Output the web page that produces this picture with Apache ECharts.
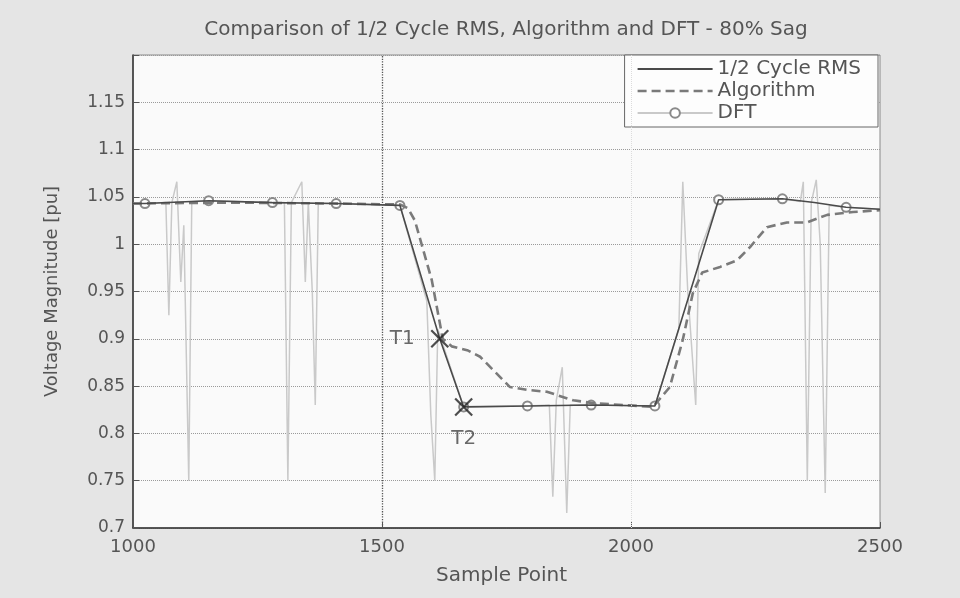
<!DOCTYPE html>
<html>
<head>
<meta charset="utf-8">
<title>Comparison of 1/2 Cycle RMS, Algorithm and DFT - 80% Sag</title>
<script src="https://cdn.jsdelivr.net/npm/echarts@6/dist/echarts.min.js"></script>
<style>
  html, body { margin: 0; padding: 0; background: #e5e5e5; }
  #chart { width: 960px; height: 598px; }
</style>
</head>
<body>
<div id="chart"></div>
<script>
// Sample point / voltage magnitude [pu] pairs for each estimator
const rmsPoints = [
  [1000, 1.043], [1024, 1.043], [1152, 1.046], [1280, 1.044], [1408, 1.043],
  [1536, 1.041], [1616, 0.900], [1664, 0.828], [1792, 0.829], [1920, 0.830],
  [2048, 0.829], [2176, 1.047], [2304, 1.048], [2368, 1.044], [2432, 1.039],
  [2500, 1.037]
];

const algorithmPoints = [
  [1000, 1.043], [1200, 1.044], [1400, 1.043], [1536, 1.042], [1552, 1.038],
  [1566, 1.025], [1600, 0.962], [1622, 0.900], [1640, 0.892], [1671, 0.888],
  [1697, 0.881], [1757, 0.849], [1791, 0.846], [1831, 0.844], [1884, 0.835],
  [1924, 0.832], [2044, 0.828], [2078, 0.849], [2104, 0.899], [2124, 0.948],
  [2143, 0.970], [2179, 0.976], [2213, 0.983], [2239, 0.997], [2273, 1.018],
  [2313, 1.023], [2353, 1.023], [2394, 1.031], [2446, 1.034], [2500, 1.036]
];

const dftPoints = [
  [1000, 1.043], [1024, 1.043], [1066, 1.044], [1072, 0.925], [1078, 1.044],
  [1088, 1.066], [1096, 0.960], [1102, 1.020], [1112, 0.750], [1118, 1.045],
  [1152, 1.046], [1280, 1.044], [1304, 1.044], [1311, 0.750], [1318, 1.044],
  [1339, 1.066], [1346, 0.960], [1352, 1.044], [1360, 0.950], [1366, 0.830],
  [1372, 1.043], [1408, 1.043], [1536, 1.041], [1590, 0.940], [1598, 0.820],
  [1606, 0.750], [1612, 0.910], [1664, 0.828], [1792, 0.829], [1836, 0.830],
  [1843, 0.733], [1850, 0.835], [1862, 0.870], [1871, 0.716], [1878, 0.830],
  [1920, 0.830], [2048, 0.829], [2096, 0.910], [2104, 1.066], [2114, 0.950],
  [2130, 0.830], [2136, 0.990], [2176, 1.047], [2304, 1.048], [2340, 1.045],
  [2346, 1.066], [2354, 0.750], [2362, 1.044], [2372, 1.068], [2380, 1.000],
  [2390, 0.737], [2398, 1.041], [2432, 1.039], [2500, 1.037]
];

// DFT estimates are marked once per cycle (128 samples)
const dftMarkerSamples = [1024, 1152, 1280, 1408, 1536, 1664, 1792, 1920, 2048, 2176, 2304, 2432];

// Sag start / end detection instants
const eventNames = ['T1', 'T2'];
const eventPoints = [[1616, 0.900], [1664, 0.828]];

const seriesNames = ['1/2 Cycle RMS', 'Algorithm', 'DFT'];
const yTickLabels = ['0.7', '0.75', '0.8', '0.85', '0.9', '0.95', '1', '1.05', '1.1', '1.15'];
const xTickLabels = ['1000', '1500', '2000', '2500'];

const FONT = '"DejaVu Sans", "Liberation Sans", sans-serif';
const TEXT = '#555';

// Legend keys: a plain stroke for the RMS trace, a dashed stroke for the algorithm trace
const solidKey = 'path://M0,0L75,0L75,1.8L0,1.8Z';
const dashedKey = 'path://M0,0h9v2.4h-9zM14,0h9v2.4h-9zM28,0h9v2.4h-9zM42,0h9v2.4h-9zM56,0h9v2.4h-9zM70,0h5v2.4h-5z';
const crossPath = 'path://M0,0L10,10M10,0L0,10';

const chart = echarts.init(document.getElementById('chart'), null, { renderer: 'canvas' });

chart.setOption({
  backgroundColor: '#e5e5e5',
  animation: false,
  title: {
    text: 'Comparison of 1/2 Cycle RMS, Algorithm and DFT - 80% Sag',
    left: 506,
    top: 20,
    padding: 0,
    textAlign: 'center',
    textStyle: { fontFamily: FONT, fontSize: 20, fontWeight: 'normal', color: TEXT }
  },
  legend: {
    data: [
      { name: seriesNames[0], icon: solidKey },
      { name: seriesNames[1], icon: dashedKey },
      { name: seriesNames[2], icon: 'inherit' }
    ],
    orient: 'vertical',
    right: 82,
    top: 55,
    align: 'left',
    itemWidth: 75,
    itemHeight: 12,
    itemGap: 2,
    padding: [4, 17, 4, 12],
    backgroundColor: '#fdfdfd',
    borderColor: '#666',
    borderWidth: 1,
    textStyle: { fontFamily: FONT, fontSize: 20, color: TEXT }
  },
  grid: {
    left: 133, right: 80, top: 55, bottom: 70,
    show: true,
    backgroundColor: '#fafafa',
    borderColor: '#8a8a8a',
    borderWidth: 1
  },
  xAxis: {
    type: 'value',
    min: 1000, max: 2500, interval: 500,
    name: 'Sample Point',
    nameLocation: 'middle',
    nameGap: 38,
    nameTextStyle: { fontFamily: FONT, fontSize: 20, color: TEXT, padding: [0, 10, 0, 0] },
    axisLine: { show: true, lineStyle: { color: '#333', width: 1.5 } },
    axisTick: { show: true, inside: true, length: 6, lineStyle: { color: '#555' } },
    axisLabel: {
      fontFamily: FONT, fontSize: 18, color: TEXT, margin: 10,
      formatter: v => xTickLabels[Math.round((v - 1000) / 500)]
    },
    splitLine: { show: false }
  },
  yAxis: {
    type: 'value',
    min: 0.7, max: 1.2, interval: 0.05,
    name: 'Voltage Magnitude [pu]',
    nameLocation: 'middle',
    nameGap: 72,
    nameRotate: 90,
    nameTextStyle: { fontFamily: FONT, fontSize: 18, color: TEXT },
    axisLine: { show: true, lineStyle: { color: '#333', width: 1.5 } },
    axisTick: { show: true, inside: true, length: 6, lineStyle: { color: '#555' } },
    axisLabel: {
      fontFamily: FONT, fontSize: 17, color: TEXT, margin: 8,
      formatter: v => {
        const i = Math.round((v - 0.7) / 0.05);
        return i < yTickLabels.length ? yTickLabels[i] : '';
      }
    },
    splitLine: { show: true, lineStyle: { color: '#9a9a9a', type: 'dotted', width: 1 } }
  },
  series: [
    {
      name: 'DFT',
      type: 'line',
      z: 1,
      symbol: 'emptyCircle',
      symbolSize: 9,
      showSymbol: true,
      itemStyle: { color: '#8a8a8a', borderWidth: 1.2 },
      lineStyle: { color: '#c9c9c9', width: 1.5 },
      data: dftPoints.map(p => ({
        value: p,
        symbol: dftMarkerSamples.includes(p[0]) ? 'emptyCircle' : 'none'
      })),
      markLine: {
        silent: true,
        symbol: 'none',
        label: { show: false },
        data: [
          { xAxis: 1500, lineStyle: { color: '#555', type: 'dotted', width: 1.3 } },
          { xAxis: 2000, lineStyle: { color: '#dcdcdc', type: 'dotted', width: 1 } }
        ]
      }
    },
    {
      name: 'Algorithm',
      type: 'line',
      z: 2,
      symbol: 'none',
      itemStyle: { color: '#7a7a7a' },
      lineStyle: { color: '#7a7a7a', width: 2.6, type: [9, 5] },
      data: algorithmPoints
    },
    {
      name: '1/2 Cycle RMS',
      type: 'line',
      z: 3,
      symbol: 'none',
      itemStyle: { color: '#4a4a4a' },
      lineStyle: { color: '#4a4a4a', width: 1.6 },
      data: rmsPoints
    },
    {
      name: 'Events',
      type: 'scatter',
      z: 5,
      symbol: crossPath,
      symbolSize: 17,
      itemStyle: { color: 'none', borderColor: '#222', borderWidth: 2.2 },
      label: {
        show: true,
        fontFamily: FONT, fontSize: 20, color: '#444',
        formatter: p => eventNames[p.dataIndex]
      },
      data: eventPoints.map((p, i) => ({
        value: p,
        label: i === 0 ? { position: 'left', distance: 14 } : { position: 'bottom', distance: 11 }
      }))
    }
  ]
});
</script>
</body>
</html>
